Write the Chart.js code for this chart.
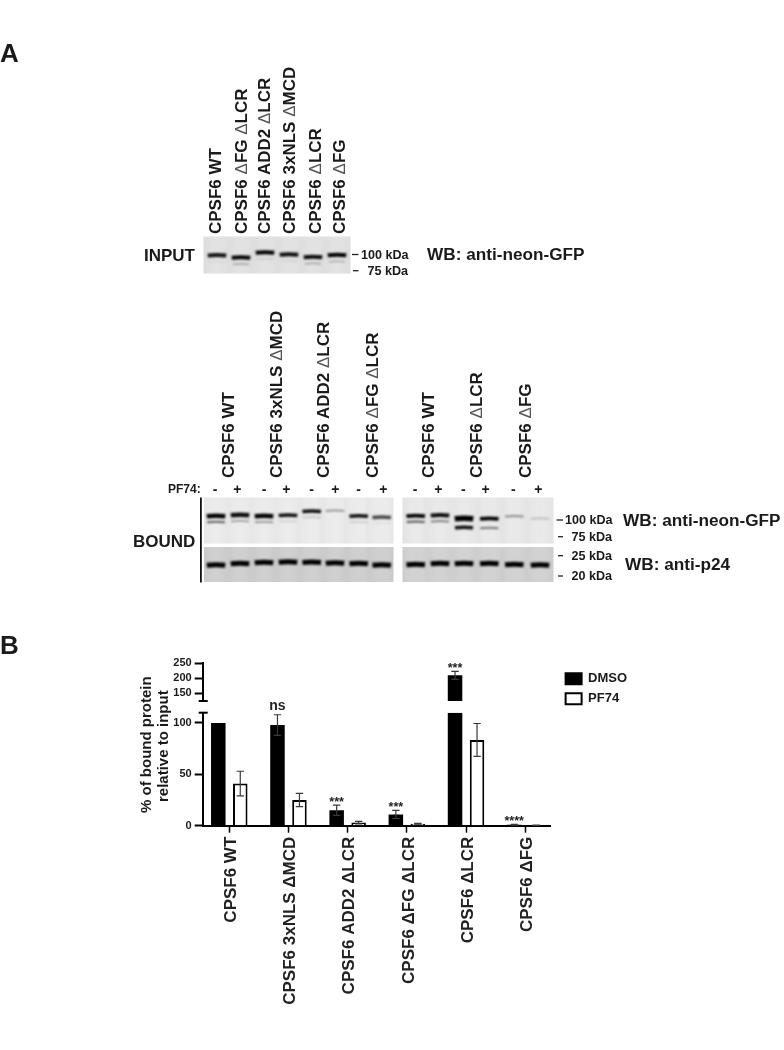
<!DOCTYPE html>
<html><head><meta charset="utf-8">
<script src="https://cdn.jsdelivr.net/npm/chart.js@4"></script>
<style>
html,body{margin:0;padding:0;background:#fff}
#page{position:relative;width:784px;height:1050px;overflow:hidden;font-family:"Liberation Sans",Arial,sans-serif;font-weight:700;color:#1a1a1a}
canvas{position:absolute}
.t{position:absolute;white-space:nowrap;line-height:1;transform:translateY(-50%)}
.r{position:absolute;white-space:nowrap;line-height:1;transform-origin:0 0;transform:rotate(-90deg) translateY(-50%)}
.d{font-weight:400;color:#555}
</style></head><body>
<div id="page">
<canvas id="gel" width="784" height="1050" style="left:0;top:0"></canvas>
<canvas id="chart" style="left:130px;top:650px"></canvas>
<div id="labels"></div>
</div>
<script>
// ---------- bar chart data ----------
const categories = ["CPSF6 WT","CPSF6 3xNLS ΔMCD","CPSF6 ADD2 ΔLCR","CPSF6 ΔFG ΔLCR","CPSF6 ΔLCR","CPSF6 ΔFG"];
const dmso = [100,98,15,11,210,1];
const pf74 = [41,25,3,1.8,83.5,0.5];
const dmsoErr = [0,10,5,4,13,0.4];
const pf74Err = [12,6.5,1.2,0.4,16,0.2];
const significance = ["","ns","***","***","***","****"];
const lowerTicks = [0,50,100];
const upperTicks = [150,200,250];
const lowerMax = 110, upperMin = 125, upperMax = 250;

// ---------- blot band strengths ----------
const inputMain = [.92,1,1,.95,.95,1];
const inputSub = [.05,.3,.1,.08,.3,.25];
const boundLeftMain = [1,.95,1,.95,.95,.4,.95,.7];
const boundLeftSub = [.6,.3,.35,.1,.15,0,.12,.05];
const boundRightMain = [1,.95,1,1,.4,.18];
const boundRightSub = [.65,.45,.95,.5,0,0];

// ---------- blots (raster panels of the figure) ----------
const g = document.getElementById('gel').getContext('2d');
function panel(x,y,w,h,base,laneXs,edge){
  g.fillStyle = base; g.fillRect(x,y,w,h);
  g.save(); g.beginPath(); g.rect(x,y,w,h); g.clip(); g.filter='blur(3px)';
  laneXs.forEach(cx=>{ g.fillStyle=edge; g.fillRect(cx-9,y-4,18,h+8); });
  g.restore();
}
function band(cx,y,w,h,a){
  if(a<=0) return;
  g.save(); g.filter='blur(0.8px)'; g.strokeStyle='rgba(0,0,0,'+a+')'; g.lineWidth=h; g.lineCap='butt';
  g.beginPath(); g.moveTo(cx-w/2,y+0.5); g.quadraticCurveTo(cx,y-0.5,cx+w/2,y+0.5); g.stroke(); g.restore();
}
const inLanes=[217,241,265,289,313,337], inY=[255,257.3,252.3,254.3,256.7,254.7];
panel(203.5,236.5,147,37,'#dddddd',inLanes,'rgba(240,240,240,.3)');
inLanes.forEach((x,i)=>{band(x,inY[i],18.5,4,inputMain[i]);band(x,inY[i]+6.5,16,1.6,inputSub[i]);});

const lLanes=[216,240,264,288,311.7,335,358.7,381.7], lY=[515.7,514.7,515.7,515,511,510.3,515.7,517], lP=[564.7,563.3,562.3,561.7,562,562.7,563.3,564.7];
const rLanes=[415.7,440,464,489.3,514.3,540], rY=[515.7,515,518.3,518.3,516,518.3], rP=[564.3,563.3,563.3,563.3,564.3,564.7], rS=[521.5,521,527.3,527.7,0,0];
panel(204,497.5,189.5,46,'#e6e6e6',lLanes,'rgba(246,246,246,.35)');
panel(204,547,189.5,35,'#c9c9c9',lLanes,'rgba(222,222,222,.35)');
panel(402.5,497.5,151,46,'#e4e4e4',rLanes,'rgba(244,244,244,.35)');
panel(402.5,547,151,35,'#cdcdcd',rLanes,'rgba(222,222,222,.35)');
lLanes.forEach((x,i)=>{band(x,lY[i],18.5,boundLeftMain[i]<.5?1.8:(i<3?4.6:3.6),boundLeftMain[i]);band(x,lY[i]+6,18,2,boundLeftSub[i]);band(x,lP[i],18.5,5,1);});
rLanes.forEach((x,i)=>{band(x,rY[i],18.5,boundRightMain[i]<.5?2:(i==2?5.6:3.8),boundRightMain[i]);if(rS[i])band(x,rS[i],18,i==2?3.4:2,boundRightSub[i]);band(x,rP[i],18.5,5,1);});
g.fillStyle='#111'; g.fillRect(200,497.5,1.8,85);
g.strokeStyle='#222'; g.lineWidth=1.3;
[[352,358.5,254.5],[353,358.5,270.7],[556.5,563,520],[558,563,536.7],[558,563,555.7],[558,563,576]].forEach(s=>{g.beginPath();g.moveTo(s[0],s[2]);g.lineTo(s[1],s[2]);g.stroke();});

// ---------- text outside the chart ----------
const box=document.getElementById('labels');
function T(text,x,y,size){const e=document.createElement('div');e.className='t';e.textContent=text;e.style.cssText='left:'+x+'px;top:'+y+'px;font-size:'+size+'px';box.appendChild(e);}
function R(text,x,y,size){const e=document.createElement('div');e.className='r';e.innerHTML=text.replace(/Δ/g,'<span class="d">Δ</span>');e.style.cssText='left:'+x+'px;top:'+y+'px;font-size:'+size+'px';box.appendChild(e);}
T('A',0,53,26);T('B',0,645,26);
T('INPUT',144,255,17);T('WB: anti-neon-GFP',427,255,17.2);
T('100 kDa',361,254.5,12.6);T('75 kDa',367.5,270.7,12.6);
T('BOUND',133,541,17);T('PF74:',168,488.5,12);
T('WB: anti-neon-GFP',623,520.7,17.2);T('WB: anti-p24',625,564.5,17.2);
T('100 kDa',565,520,12.6);T('75 kDa',571.5,536.7,12.6);T('25 kDa',571.5,555.7,12.6);T('20 kDa',571.5,576,12.6);
const inputNames=["CPSF6 WT","CPSF6 ΔFG ΔLCR","CPSF6 ADD2 ΔLCR","CPSF6 3xNLS ΔMCD","CPSF6 ΔLCR","CPSF6 ΔFG"];
[215,241,264,289.3,315,339.3].forEach((x,i)=>R(inputNames[i],x,234,17));
const boundNames=["CPSF6 WT","CPSF6 3xNLS ΔMCD","CPSF6 ADD2 ΔLCR","CPSF6 ΔFG ΔLCR","CPSF6 WT","CPSF6 ΔLCR","CPSF6 ΔFG"];
[227.7,276,323.3,371.7,427.7,476,525].forEach((x,i)=>R(boundNames[i],x,478,17));
const signs=['-','+','-','+','-','+','-','+','-','+','-','+','-','+'];
[215,237.3,264,286.3,311.7,335.3,358.7,383.3,415,438.3,463.3,485.7,513.3,538.3].forEach((x,i)=>{
  const e=document.createElement('div');e.className='t';e.textContent=signs[i];
  e.style.cssText='left:'+(x-5)+'px;width:10px;text-align:center;top:488.5px;font-size:14px';box.appendChild(e);});
R('% of bound protein',144.5,813,15);R('relative to input',162,802,15);

// ---------- chart ----------
const errPlugin={id:'errs',
 afterLayout(c){ c.legend.left+=8; c.legend.top+=2; c.legend.right+=70; },
 afterDatasetsDraw(c){
  const x=c.ctx; x.save();
  x.strokeStyle='#3a3a3a'; x.lineWidth=1.2;
  const drawErr=(px,sc,v,e)=>{ if(!e) return;
    const t=sc.getPixelForValue(v+e), b=sc.getPixelForValue(v-e);
    x.beginPath();x.moveTo(px,t);x.lineTo(px,b);x.moveTo(px-3.7,t);x.lineTo(px+3.7,t);x.moveTo(px-3.7,b);x.lineTo(px+3.7,b);x.stroke();};
  const m0=c.getDatasetMeta(0), m1=c.getDatasetMeta(1);
  categories.forEach((_,i)=>{
    const high=dmso[i]>lowerMax, sc=high?c.scales.y2:c.scales.y, px=m0.data[i].x;
    drawErr(px,sc,dmso[i],dmsoErr[i]);
    drawErr(m1.data[i].x,c.scales.y,pf74[i],pf74Err[i]);
    const s=significance[i]; if(s){
      const top=sc.getPixelForValue(dmso[i]+dmsoErr[i]);
      x.fillStyle='#222'; x.textAlign='center';
      if(s==='ns'){x.font='bold 14px "Liberation Sans"';x.textBaseline='middle';x.fillText(s,px,top-8.5);}
      else{x.font='bold 12.5px "Liberation Sans"';x.textBaseline='middle';x.fillText(s,px,top-3);}
    }
  });
  // axis break caps
  x.strokeStyle='#000';x.lineWidth=2;
  const ax=c.scales.y.left+c.scales.y.width;
  [[c.scales.y,lowerMax],[c.scales.y2,upperMin]].forEach(([sc,v])=>{const p=sc.getPixelForValue(v);x.beginPath();x.moveTo(ax-4,p);x.lineTo(ax+5,p);x.stroke();});
  x.restore();
}};
const yFont={family:'"Liberation Sans"',size:11,weight:'bold'};
const yCommon={position:'left',stacked:false,stack:'broken',
  border:{display:true,color:'#000',width:2},
  grid:{display:true,drawOnChartArea:false,drawTicks:true,tickLength:8,tickWidth:2,tickColor:'#000'},
  ticks:{color:'#1a1a1a',font:yFont,padding:3,includeBounds:false},
  afterFit(s){s.width=72.7;}};
const cv=document.getElementById('chart');
cv.width=560;cv.height=400;cv.style.width='560px';cv.style.height='400px';
new Chart(cv,{
  type:'bar',
  data:{datasets:[
    {label:'DMSO',stack:'dmso',xAxisID:'x',yAxisID:'y',backgroundColor:'#000',borderColor:'#000',borderWidth:0,
     data:dmso.map((v,i)=>({x:i,y:Math.min(v,lowerMax)}))},
    {label:'PF74',stack:'pf',xAxisID:'x',yAxisID:'y',backgroundColor:'#fff',borderColor:'#000',borderWidth:2,
     data:pf74.map((v,i)=>({x:i,y:v}))},
    {label:'DMSO (upper segment)',stack:'dmso',xAxisID:'x',yAxisID:'y2',backgroundColor:'#000',borderColor:'#000',borderWidth:0,
     data:dmso.map((v,i)=>({x:i,y:v>lowerMax?v:null}))}
  ]},
  options:{
    responsive:false,animation:false,
    layout:{padding:{top:13.3,left:0,right:79.3,bottom:0}},
    datasets:{bar:{categoryPercentage:.743,barPercentage:.66}},
    plugins:{tooltip:{enabled:false},
      legend:{position:'right',align:'start',
        labels:{boxWidth:16,boxHeight:11,padding:7,color:'#1a1a1a',font:{family:'"Liberation Sans"',size:13,weight:'bold'},
          filter:(it)=>it.datasetIndex<2,
          generateLabels(c){return c.data.datasets.map((d,i)=>({text:d.label,fillStyle:d.backgroundColor,strokeStyle:'#000',lineWidth:2,datasetIndex:i,fontColor:'#1a1a1a'}));}}}},
    scales:{
      x:{type:'linear',min:-0.449,max:5.429,offset:false,
        afterBuildTicks(s){s.ticks=categories.map((_,i)=>({value:i}));},
        border:{display:true,color:'#000',width:2},
        grid:{display:true,offset:false,drawOnChartArea:false,tickLength:7,tickWidth:1.5,tickColor:'#000'},
        ticks:{autoSkip:false,minRotation:90,maxRotation:90,padding:4,labelOffset:2,color:'#222',font:{family:'"Liberation Sans"',size:17,weight:'bold'},
          callback:(v)=>categories[v]},
        afterFit(s){s.height=224.3;}},
      y:{...yCommon,min:0,max:lowerMax,stackWeight:113,weight:1,
        afterBuildTicks(s){s.ticks=lowerTicks.map(v=>({value:v}));}},
      gap:{position:'left',stack:'broken',stackWeight:11.7,weight:2,display:true,min:0,max:1,
        border:{display:false},grid:{display:false},ticks:{display:false},afterFit(s){s.width=72.7;}},
      y2:{...yCommon,min:upperMin,max:upperMax,stackWeight:37.7,weight:3,
        afterBuildTicks(s){s.ticks=upperTicks.map(v=>({value:v}));}}
    }
  },
  plugins:[errPlugin]
});
</script>
</body></html>
